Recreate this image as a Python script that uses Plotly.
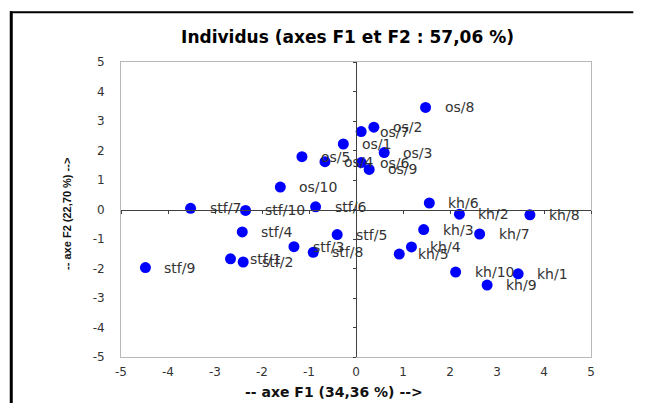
import plotly.graph_objects as go

# ---- data ----
labels = ["os/1", "os/2", "os/3", "os/4", "os/5", "os/6", "os/7", "os/8", "os/9", "os/10",
          "kh/1", "kh/2", "kh/3", "kh/4", "kh/5", "kh/6", "kh/7", "kh/8", "kh/9", "kh/10",
          "stf/1", "stf/2", "stf/3", "stf/4", "stf/5", "stf/6", "stf/7", "stf/8", "stf/9", "stf/10"]
f1 = [-0.27, 0.38, 0.60, -0.66, -1.15, 0.11, 0.11, 1.48, 0.28, -1.61,
      3.45, 2.20, 1.44, 1.18, 0.92, 1.56, 2.63, 3.70, 2.79, 2.12,
      -2.67, -2.40, -1.32, -2.42, -0.40, -0.86, -3.52, -0.91, -4.48, -2.35]
f2 = [2.22, 2.79, 1.93, 1.62, 1.79, 1.59, 2.64, 3.46, 1.36, 0.76,
      -2.18, -0.16, -0.68, -1.27, -1.51, 0.22, -0.83, -0.18, -2.56, -2.12,
      -1.67, -1.78, -1.26, -0.76, -0.85, 0.09, 0.04, -1.45, -1.97, -0.03]
tick_vals = [-5, -4, -3, -2, -1, 0, 1, 2, 3, 4, 5]
tick_text = ["-5", "-4", "-3", "-2", "-1", "0", "1", "2", "3", "4", "5"]
title_text = "Individus (axes F1 et F2 : 57,06 %)"
x_title = "-- axe F1 (34,36 %) -->"
y_title = "-- axe F2 (22,70 %) -->"

FONT = "DejaVu Sans"
TXT = "#333333"

fig = go.Figure()
fig.add_trace(go.Scatter(
    x=f1, y=f2, mode="markers",
    marker=dict(color="#0000FF", size=11, line=dict(width=0)),
    showlegend=False, hoverinfo="text", text=labels,
))
# invisible trace so the zero-crossing axes are drawn
fig.add_trace(go.Scatter(x=[], y=[], xaxis="x2", yaxis="y2", showlegend=False))

annotations = []
for lab, xv, yv in zip(labels, f1, f2):
    annotations.append(dict(
        x=xv, y=yv, xref="x", yref="y", text=lab, showarrow=False,
        xanchor="left", yanchor="middle", xshift=17,
        font=dict(family=FONT, size=14, color=TXT),
    ))
annotations.append(dict(
    x=0.453, y=-0.119, xref="paper", yref="paper", text=x_title, showarrow=False,
    xanchor="center", yanchor="middle",
    font=dict(family=FONT, size=14, color="#111111", weight="bold"),
))
annotations.append(dict(
    x=-0.115, y=0.485, xref="paper", yref="paper", text=y_title, showarrow=False,
    xanchor="center", yanchor="middle", textangle=-90,
    font=dict(family="Liberation Sans", size=11, color="#111111", weight="bold"),
))

axis_common = dict(
    range=[-5, 5], tickvals=tick_vals, ticktext=tick_text,
    showgrid=False, zeroline=False, showline=True, mirror=True,
    linecolor="#b8b8b8", linewidth=1, ticks="",
    tickfont=dict(family=FONT, size=12, color=TXT),
)
zero_axis = dict(
    range=[-5, 5], tickvals=tick_vals, showticklabels=False,
    showgrid=False, zeroline=False, showline=True,
    linecolor="#404040", linewidth=1, ticks="outside", ticklen=3,
    tickcolor="#404040", tickwidth=1, anchor="free", position=0.5,
)

fig.update_layout(
    width=629, height=395,
    margin=dict(l=113, r=46, t=54, b=46),
    paper_bgcolor="white", plot_bgcolor="white",
    title=dict(text=title_text, xref="paper", x=0.482, xanchor="center",
               yref="container", y=0.9266, yanchor="middle",
               font=dict(family=FONT, size=17, color="black", weight="bold")),
    xaxis=dict(**axis_common, ticklabelstandoff=4),
    yaxis=dict(**axis_common, ticklabelstandoff=13),
    xaxis2=dict(**zero_axis, overlaying="x", side="bottom"),
    yaxis2=dict(**zero_axis, overlaying="y", side="left"),
    annotations=annotations,
    shapes=[
        dict(type="line", xref="paper", yref="paper", x0=-0.236, x1=1.09, y0=1.169, y1=1.169,
             line=dict(color="black", width=2)),
        dict(type="line", xref="paper", yref="paper", x0=-0.2335, x1=-0.2335, y0=1.172, y1=-0.3,
             line=dict(color="black", width=3)),
    ],
    showlegend=False,
)

fig.write_html("out.html")
